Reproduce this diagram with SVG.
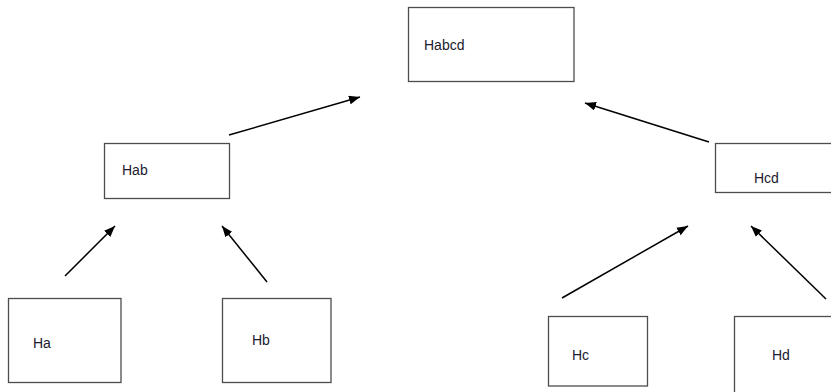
<svg xmlns="http://www.w3.org/2000/svg" width="831" height="392" viewBox="0 0 831 392">
<style>
.box{fill:#fff;stroke:#4d4d4d;stroke-width:1.3}
.lbl{font-family:"Liberation Sans",Arial,sans-serif;font-size:14px;fill:#1a1a2e}
.edge{stroke:#000;stroke-width:1.5;fill:none}
</style>
<defs>
<marker id="ah" viewBox="0 0 10 8" refX="10" refY="4" markerWidth="11" markerHeight="9" markerUnits="userSpaceOnUse" orient="auto">
<path d="M0,0 L10,4 L0,8 z" fill="#000"/>
</marker>
</defs>
<rect width="831" height="392" fill="#fff"/>
<g id="connectors">
<line class="edge" x1="229" y1="135" x2="360" y2="97" marker-end="url(#ah)"/>
<line class="edge" x1="709" y1="142" x2="585" y2="103" marker-end="url(#ah)"/>
<line class="edge" x1="65" y1="276" x2="115" y2="226" marker-end="url(#ah)"/>
<line class="edge" x1="267" y1="282" x2="222" y2="226" marker-end="url(#ah)"/>
<line class="edge" x1="562" y1="298" x2="688" y2="226" marker-end="url(#ah)"/>
<line class="edge" x1="826" y1="299" x2="751" y2="226" marker-end="url(#ah)"/>
</g>
<g id="node-habcd">
<rect class="box" x="408.5" y="7.5" width="165.5" height="74"/>
<text class="lbl" x="424" y="50">Habcd</text>
</g>
<g id="node-hab">
<rect class="box" x="104.5" y="143.5" width="125" height="55"/>
<text class="lbl" x="122" y="175">Hab</text>
</g>
<g id="node-hcd">
<rect class="box" x="715.5" y="143.5" width="125" height="49"/>
<text class="lbl" x="754" y="183">Hcd</text>
</g>
<g id="node-ha">
<rect class="box" x="8.5" y="298.5" width="112.5" height="84"/>
<text class="lbl" x="33" y="348">Ha</text>
</g>
<g id="node-hb">
<rect class="box" x="222.5" y="298.5" width="108.5" height="84"/>
<text class="lbl" x="252" y="345">Hb</text>
</g>
<g id="node-hc">
<rect class="box" x="548.5" y="316.5" width="99" height="69.5"/>
<text class="lbl" x="572" y="360">Hc</text>
</g>
<g id="node-hd">
<rect class="box" x="734.5" y="316.5" width="110" height="90"/>
<text class="lbl" x="772" y="360">Hd</text>
</g>
</svg>
